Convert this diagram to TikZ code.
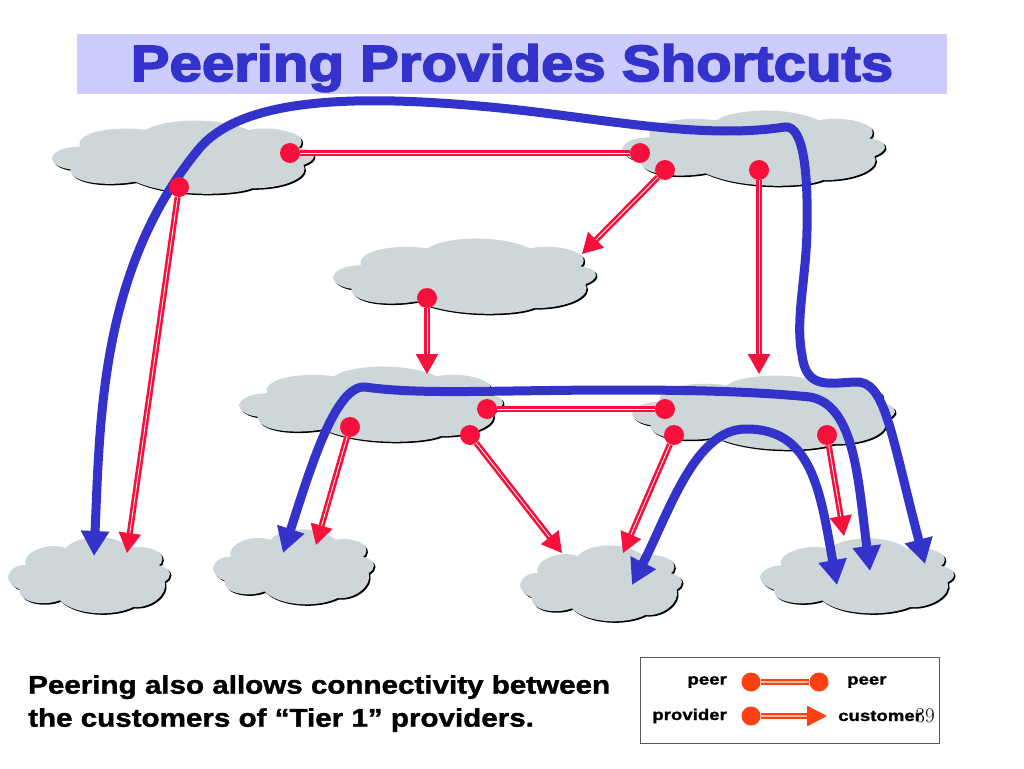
\documentclass[tikz,border=0pt]{standalone}
\usepackage{fontspec}
\setmainfont{Liberation Sans}
\newfontfamily\blk[FakeBold=3.2,FakeStretch=1.14]{Liberation Sans Bold}
\newfontfamily\blkb[FakeBold=1.4,FakeStretch=1.16]{Liberation Sans Bold}
\newfontfamily\blks[FakeBold=1.2,FakeStretch=1.2]{Liberation Sans Bold}
\usetikzlibrary{arrows.meta}
\definecolor{bar}{HTML}{CCCCFF}
\definecolor{blu}{HTML}{3333CC}
\definecolor{rd}{HTML}{F8103C}
\definecolor{org}{HTML}{FF4010}
\definecolor{cld}{HTML}{CDD7D9}
\newcommand{\widepath}{(35,175) .. controls (40,150) and (80,140) .. (118,140)
 .. controls (105,105) and (190,75) .. (318,90)
 .. controls (360,60) and (520,45) .. (625,90)
 .. controls (700,75) and (790,100) .. (785,125)
 .. controls (785,135) and (780,140) .. (775,143)
 .. controls (800,145) and (825,155) .. (822,170)
 .. controls (820,180) and (805,190) .. (790,195)
 .. controls (810,225) and (750,265) .. (635,265)
 .. controls (590,285) and (400,295) .. (285,245)
 .. controls (200,260) and (90,250) .. (90,208)
 .. controls (60,205) and (35,190) .. (35,175) -- cycle}
\newcommand{\roundpath}{(25,170) .. controls (28,150) and (50,135) .. (78,135)
 .. controls (65,100) and (140,65) .. (198,85)
 .. controls (230,45) and (350,40) .. (392,85)
 .. controls (430,75) and (490,90) .. (487,118)
 .. controls (486,128) and (482,133) .. (477,136)
 .. controls (495,140) and (510,150) .. (510,162)
 .. controls (510,172) and (503,180) .. (494,185)
 .. controls (505,225) and (450,265) .. (400,260)
 .. controls (340,290) and (225,285) .. (180,240)
 .. controls (130,260) and (55,245) .. (60,208)
 .. controls (40,200) and (25,185) .. (25,170) -- cycle}
\newcommand{\cloud}[9]{%
 \pgfmathsetmacro{\csx}{(#2-#1)/(#7-#6)}%
 \pgfmathsetmacro{\csy}{(#4-#3)/(#9-#8)}%
 \pgfmathsetmacro{\cdx}{1.5/\csx}%
 \pgfmathsetmacro{\cdy}{1.5/\csy}%
 \begin{scope}[shift={(#1,#3)},xscale=\csx,yscale=\csy,shift={(-#6,-#8)}]
 \begin{scope}[shift={(\cdx,\cdy)}]\fill[black] #5;\end{scope}
 \fill[cld] #5;
 \end{scope}}
\newcommand{\wcloud}[4]{\cloud{#1}{#2}{#3}{#4}{\widepath}{35}{822}{60}{282}}
\newcommand{\rcloud}[4]{\cloud{#1}{#2}{#3}{#4}{\roundpath}{25}{510}{52}{278}}
\tikzset{
 x=1pt,y=-1pt,
 dot/.style={circle,fill=#1,inner sep=0pt,minimum size=20pt},
 dot/.default=rd,
 peerln/.style={draw=rd,double=white,line width=2.6pt,double distance=0.8pt},
 provln/.style={peerln,-{Triangle[length=20pt,width=22pt]}},
 orgpeer/.style={draw=org,double=white!60!org,line width=2.4pt,double distance=1.3pt},
 orgprov/.style={orgpeer,-{Triangle[length=20pt,width=20pt]}},
 bluln/.style={draw=blu,line width=9pt,{Triangle[length=25pt,width=27pt]}-{Triangle[length=25pt,width=27pt]}},
 legend/.style={font=\blks\fontsize{15.5}{18}\selectfont,text=black,inner sep=0pt},
 body/.style={font=\blkb\fontsize{25.5}{33}\selectfont,text=black,align=left,inner sep=0pt,anchor=north west},
}
\begin{document}
\begin{tikzpicture}
\useasboundingbox (0,0) rectangle (1024,768);
\fill[white] (0,0) rectangle (1024,768);
\fill[bar] (77,34) rectangle (947,94);
\node[font=\blk\fontsize{51}{60}\selectfont,text=blu,inner sep=0pt] (title) at (512,68) {Peering Provides Shortcuts};
\wcloud{52}{314}{120}{194}
\wcloud{622}{885}{110}{186}
\wcloud{333}{596}{238}{314}
\wcloud{239}{503}{366}{442}
\wcloud{632}{895}{375}{450}
\rcloud{8}{170}{537}{613}
\rcloud{213}{374}{529}{604}
\rcloud{520}{682}{545}{621}
\rcloud{760}{954}{538}{613}
% red arrow ends
\coordinate (t1) at (127,553);
\coordinate (t2) at (582,254);
\coordinate (t3) at (759,374);
\coordinate (t4) at (427,374);
\coordinate (t5) at (316,545);
\coordinate (t6) at (562,553);
\coordinate (t7) at (623,553);
\coordinate (t8) at (844,536);
% blue path ends
\coordinate (ba) at (94,556);
\coordinate (bb) at (925,564);
\coordinate (bc) at (283,553);
\coordinate (bd) at (870,571);
\coordinate (be) at (632,585);
\coordinate (bf) at (837,585);
\draw[bluln] (ba) .. controls (100,420) and (100,270) .. (198,150)
 .. controls (238,101) and (340,92) .. (500,108)
 .. controls (600,118) and (700,140) .. (785,127)
 .. controls (805,125) and (808,180) .. (807,230)
 .. controls (806,280) and (795,320) .. (802,355)
 .. controls (806,390) and (830,383) .. (855,382)
 .. controls (885,380) and (890,430) .. (bb);
\node[dot] (p1) at (290,153) {};
\node[dot] (p2) at (640,153) {};
\node[dot] (a1) at (179,187) {};
\node[dot] (a2) at (665,170) {};
\node[dot] (a3) at (759,170) {};
\node[dot] (a4) at (427,298) {};
\node[dot] (p3) at (487,409) {};
\node[dot] (p4) at (665,409) {};
\node[dot] (a5) at (350,427) {};
\node[dot] (a6) at (470,435) {};
\node[dot] (a7) at (674,435) {};
\node[dot] (a8) at (827,435) {};
\draw[peerln] (p1) -- (p2);
\draw[peerln] (p3) -- (p4);
\draw[provln] (a1) -- (t1);
\draw[provln] (a2) -- (t2);
\draw[provln] (a3) -- (t3);
\draw[provln] (a4) -- (t4);
\draw[provln] (a5) -- (t5);
\draw[provln] (a6) -- (t6);
\draw[provln] (a7) -- (t7);
\draw[provln] (a8) -- (t8);
\draw[bluln] (bc) .. controls (310,470) and (335,385) .. (365,387)
 .. controls (420,395) and (500,390) .. (620,390)
 .. controls (700,390) and (760,392) .. (810,397)
 .. controls (855,405) and (858,480) .. (bd);
\draw[bluln] (be) .. controls (670,510) and (695,430) .. (745,429)
 .. controls (812,428) and (820,490) .. (bf);
% text
\node[body] (note) at (28,675) {Peering also allows connectivity between\\the customers of “Tier 1” providers.};
% legend
\draw[draw=black!65,line width=1pt,fill=white] (640,657) rectangle (939,743);
\node[dot=org,minimum size=19pt] (l1) at (751,682) {};
\node[dot=org,minimum size=19pt] (l2) at (819,682) {};
\node[dot=org,minimum size=19pt] (l3) at (751,716) {};
\coordinate (l4) at (827,716);
\draw[orgpeer] (l1) -- (l2);
\draw[orgprov] (l3) -- (l4);
\node[legend,anchor=east] (k1) at (727,682) {peer};
\node[legend,anchor=west] (k2) at (847,682) {peer};
\node[legend,anchor=east] (k3) at (727,716) {provider};
\node[legend,anchor=west] (k4) at (838,716) {customer};
\node[font=\fontfamily{lmr}\fontsize{21}{24}\selectfont,inner sep=0pt] (num) at (925,716) {39};
\end{tikzpicture}
\end{document}
